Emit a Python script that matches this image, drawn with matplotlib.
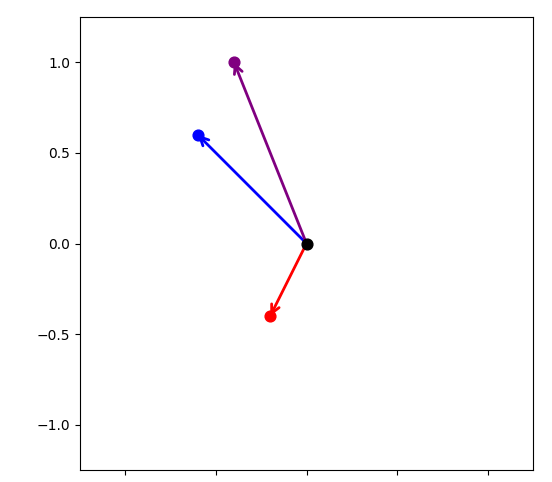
import matplotlib
matplotlib.use("Agg")
import matplotlib.pyplot as plt

# vector end points, all starting at the origin
vec_x = [-0.6, -0.4, -0.2]
vec_y = [0.6, 1.0, -0.4]
vec_colors = ["blue", "purple", "red"]
origin = (0.0, 0.0)

fig = plt.figure(figsize=(5.52, 4.82), dpi=100)
ax = fig.add_axes([80 / 552, 12 / 482, 453 / 552, 453 / 482])

for x, y, c in zip(vec_x, vec_y, vec_colors):
    ax.annotate("", xy=(x, y), xytext=origin,
                arrowprops=dict(arrowstyle="->", color=c, lw=2,
                                shrinkA=0, shrinkB=0, mutation_scale=15))
    ax.scatter([x], [y], color=c, s=60, zorder=3)
ax.scatter([origin[0]], [origin[1]], color="black", s=60, zorder=4)

ax.set_xlim(-1.25, 1.25)
ax.set_ylim(-1.25, 1.25)
ax.set_xticks([-1, -0.5, 0, 0.5, 1])
ax.set_xticklabels([])
ax.set_yticks([-1.0, -0.5, 0.0, 0.5, 1.0])

fig.savefig("out.png", dpi=100)
